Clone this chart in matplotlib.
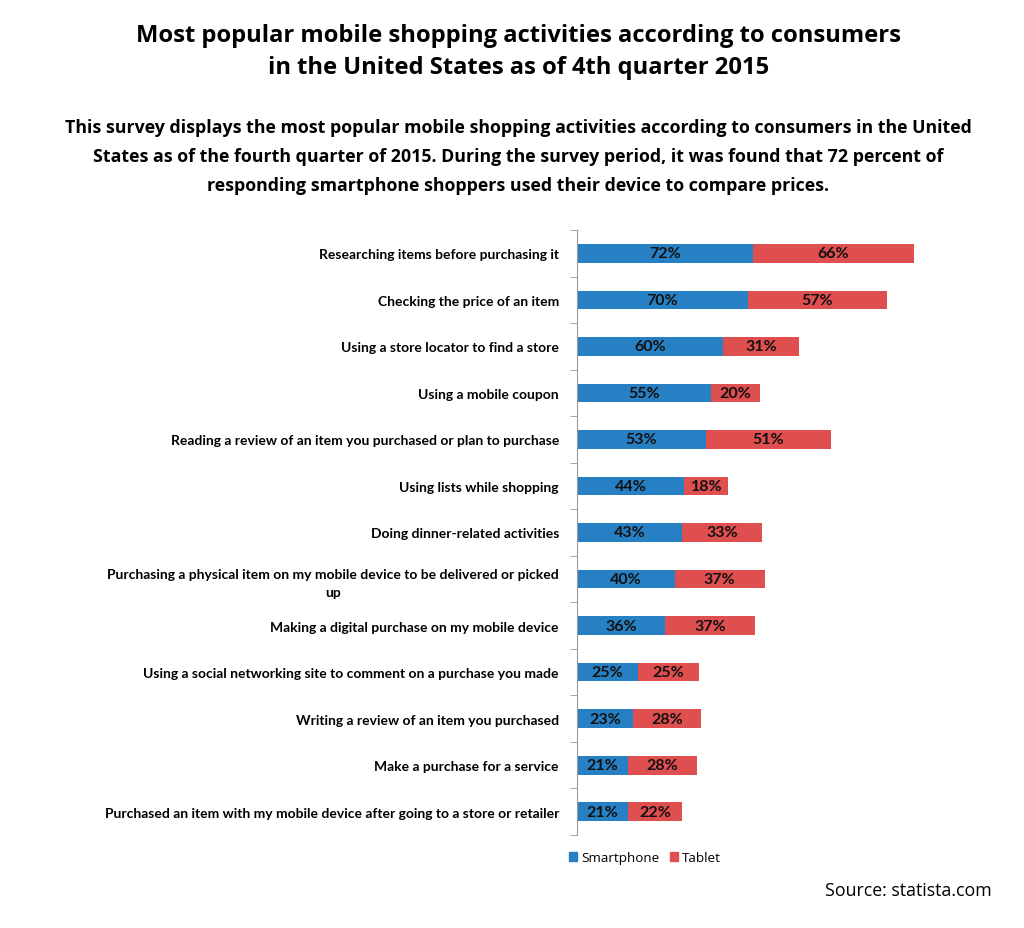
import matplotlib
matplotlib.use("Agg")
import matplotlib.pyplot as plt
from matplotlib.patches import Patch

categories = [
    "Researching items before purchasing it",
    "Checking the price of an item",
    "Using a store locator to find a store",
    "Using a mobile coupon",
    "Reading a review of an item you purchased or plan to purchase",
    "Using lists while shopping",
    "Doing dinner-related activities",
    "Purchasing a physical item on my mobile device to be delivered or picked\nup",
    "Making a digital purchase on my mobile device",
    "Using a social networking site to comment on a purchase you made",
    "Writing a review of an item you purchased",
    "Make a purchase for a service",
    "Purchased an item with my mobile device after going to a store or retailer",
]
smartphone = [72, 70, 60, 55, 53, 44, 43, 40, 36, 25, 23, 21, 21]
tablet = [66, 57, 31, 20, 51, 18, 33, 37, 37, 25, 28, 28, 22]

blue = "#2880c4"
red = "#e04f4f"

fig = plt.figure(figsize=(10.24, 9.29), dpi=100)
ax = fig.add_axes([577/1024, 1-836/929, 400/1024, 605/929])

y = list(range(len(categories)))
ax.barh(y, smartphone, height=0.4, color=blue, label="Smartphone")
ax.barh(y, tablet, left=smartphone, height=0.4, color=red, label="Tablet")
for yi, s, t in zip(y, smartphone, tablet):
    ax.text(s/2, yi, f"{s}%", ha="center", va="center", fontsize=11.5,
            fontweight="bold", family="Lato", color="#111111")
    ax.text(s + t/2, yi, f"{t}%", ha="center", va="center", fontsize=11.5,
            fontweight="bold", family="Lato", color="#111111")

ax.set_ylim(len(categories)-0.5, -0.5)
ax.set_xlim(0, 164)
ax.set_yticks(y)
ax.set_yticklabels(categories, fontsize=10, fontweight="bold", family="Lato",
                   multialignment="center", linespacing=1.6)
ax.set_yticks([i + 0.5 for i in range(-1, len(categories))], minor=True)
ax.tick_params(axis="y", which="major", length=0, pad=13)
ax.tick_params(axis="y", which="minor", length=5, color="#999999", direction="out")
ax.set_xticks([])
for s in ["top", "right", "bottom"]:
    ax.spines[s].set_visible(False)
ax.spines["left"].set_color("#999999")

fig.text(519/1024, 1-36/929, "Most popular mobile shopping activities according to consumers",
         ha="center", va="center", fontsize=17.1, fontweight="bold", family="Open Sans")
fig.text(519/1024, 1-68/929, "in the United States as of 4th quarter 2015",
         ha="center", va="center", fontsize=17.1, fontweight="bold", family="Open Sans")
sub = ["This survey displays the most popular mobile shopping activities according to consumers in the United",
       "States as of the fourth quarter of 2015. During the survey period, it was found that 72 percent of",
       "responding smartphone shoppers used their device to compare prices."]
for i, line in enumerate(sub):
    fig.text(518/1024, 1-(128+29*i)/929, line, ha="center", va="center", fontsize=12.8,
             fontweight="bold", family="Open Sans")

handles = [Patch(color=blue, label="Smartphone"), Patch(color=red, label="Tablet")]
fig.legend(handles=handles, loc="center", bbox_to_anchor=(645/1024, 1-859/929), ncol=2,
           frameon=False, prop={"family": "Open Sans", "size": 9.7},
           handlelength=0.6, handleheight=0.6, handletextpad=0.3, columnspacing=0.8)

fig.text(992/1024, 1-891/929, "Source: statista.com", ha="right", va="center",
         fontsize=12.8, family="Open Sans")

fig.savefig("out.png", dpi=100)
